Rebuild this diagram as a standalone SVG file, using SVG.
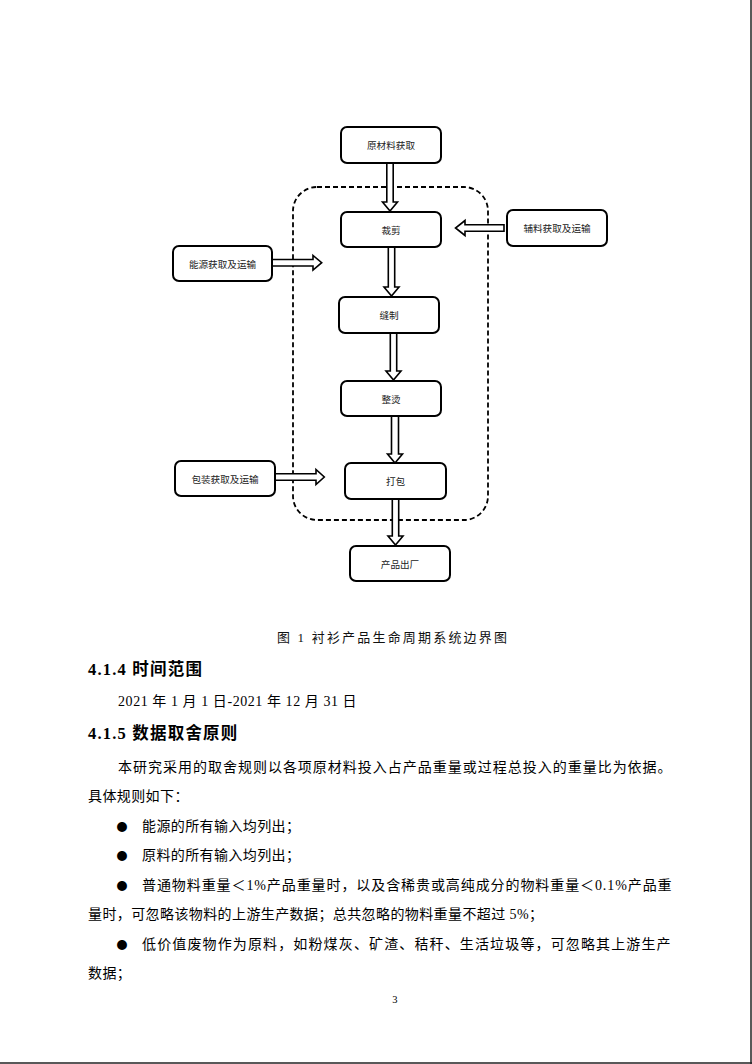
<svg xmlns="http://www.w3.org/2000/svg" width="752" height="1064" viewBox="0 0 752 1064">
<style>
.box{fill:#fff;stroke:#000;stroke-width:2}
.lbl{font-family:"Noto Sans CJK SC","Noto Sans",sans-serif;font-size:9.6px;fill:#222;text-anchor:middle;dominant-baseline:central}
.arr{fill:#fff;stroke:#000;stroke-width:1.6;stroke-linejoin:miter}
.bound{fill:none;stroke:#000;stroke-width:1.8;stroke-dasharray:5 3}
.body{font-family:"Liberation Serif","Noto Sans CJK SC",serif;font-size:14px;fill:#000;dominant-baseline:central;letter-spacing:0.4px}
.bul{font-family:"Noto Sans CJK SC",sans-serif;font-size:11px;fill:#000;dominant-baseline:central;text-anchor:middle}
.head{font-family:"Liberation Serif","Noto Sans CJK SC",serif;font-size:16.5px;font-weight:bold;fill:#000;dominant-baseline:central;letter-spacing:1.2px}
.cap{font-family:"Liberation Serif","Noto Sans CJK SC",serif;font-size:13px;fill:#111;dominant-baseline:central}
</style>
<rect x="0" y="0" width="752" height="1064" fill="#fff"/>
<line x1="751" y1="0" x2="751" y2="1064" stroke="#222" stroke-width="1.5"/>
<line x1="0" y1="1063" x2="752" y2="1063" stroke="#222" stroke-width="1.5"/>

<rect id="boundary" class="bound" x="293" y="187" width="195" height="333" rx="24"/>

<g id="connectors">
<path class="arr" d="M386.8,163 V202 H382.5 L390,211 L397.5,202 H393.2 V163 Z"/>
<path class="arr" d="M388.3,247 V287 H384 L391.5,296 L399,287 H394.7 V247 Z"/>
<path class="arr" d="M390.3,333 V371 H386 L393.5,380 L401,371 H396.7 V333 Z"/>
<path class="arr" d="M391.5,416 V454 H387.5 L395,463 L402.5,454 H398.5 V416 Z"/>
<path class="arr" d="M392.3,499 V536 H388 L395.5,545 L403,536 H398.7 V499 Z"/>
<path class="arr" d="M272,259.5 H313 V255.5 L321.7,262.7 L313,270 V266 H272 Z"/>
<path class="arr" d="M275,473.8 H316 V469.5 L324.3,477 L316,484.5 V480.2 H275 Z"/>
<path class="arr" d="M504,224.8 H465 V220.5 L455.5,228 L465,235.5 V231.2 H504 Z"/>
</g>

<g id="n-raw"><rect class="box" x="341" y="127" width="100" height="36" rx="6"/><text class="lbl" x="391" y="145">原材料获取</text></g>
<g id="n-cut"><rect class="box" x="341" y="212" width="100" height="35" rx="6"/><text class="lbl" x="391" y="229.5">裁剪</text></g>
<g id="n-sew"><rect class="box" x="339" y="297" width="100" height="36" rx="6"/><text class="lbl" x="389" y="315">缝制</text></g>
<g id="n-iron"><rect class="box" x="341" y="381" width="100" height="35" rx="6"/><text class="lbl" x="391" y="398.5">整烫</text></g>
<g id="n-pack"><rect class="box" x="345" y="463" width="101" height="36" rx="6"/><text class="lbl" x="395.5" y="481">打包</text></g>
<g id="n-out"><rect class="box" x="350" y="546" width="100" height="35" rx="6"/><text class="lbl" x="400" y="563.5">产品出厂</text></g>
<g id="n-aux"><rect class="box" x="507" y="210" width="100" height="36" rx="6"/><text class="lbl" x="557" y="228">辅料获取及运输</text></g>
<g id="n-energy"><rect class="box" x="173" y="246" width="99" height="35" rx="6"/><text class="lbl" x="222.5" y="263.5">能源获取及运输</text></g>
<g id="n-packmat"><rect class="box" x="175" y="461" width="100" height="35" rx="6"/><text class="lbl" x="225" y="478.5">包装获取及运输</text></g>

<g id="page-text">
<text class="cap" x="277" y="637" textLength="230" lengthAdjust="spacing">图 1 衬衫产品生命周期系统边界图</text>
<text class="head" x="88" y="669">4.1.4  时间范围</text>
<text class="body" x="118" y="701" textLength="239" lengthAdjust="spacing">2021 年 1 月 1 日-2021 年 12 月 31 日</text>
<text class="head" x="88" y="733">4.1.5  数据取舍原则</text>
<text class="body" x="118" y="767" textLength="554" lengthAdjust="spacing">本研究采用的取舍规则以各项原材料投入占产品重量或过程总投入的重量比为依据。</text>
<text class="body" x="88" y="796">具体规则如下：</text>
<text class="bul" x="122" y="826">●</text>
<text class="body" x="142" y="826">能源的所有输入均列出；</text>
<text class="bul" x="122" y="855">●</text>
<text class="body" x="142" y="855">原料的所有输入均列出；</text>
<text class="bul" x="122" y="885">●</text>
<text class="body" x="142" y="885" textLength="530" lengthAdjust="spacing">普通物料重量＜1%产品重量时，以及含稀贵或高纯成分的物料重量＜0.1%产品重</text>
<text class="body" x="88" y="914">量时，可忽略该物料的上游生产数据；总共忽略的物料重量不超过 5%；</text>
<text class="bul" x="122" y="944">●</text>
<text class="body" x="142" y="944" textLength="529" lengthAdjust="spacing">低价值废物作为原料，如粉煤灰、矿渣、秸秆、生活垃圾等，可忽略其上游生产</text>
<text class="body" x="88" y="973">数据；</text>
<text class="body" x="395" y="999" style="font-size:10.5px" text-anchor="middle">3</text>
</g>
</svg>
